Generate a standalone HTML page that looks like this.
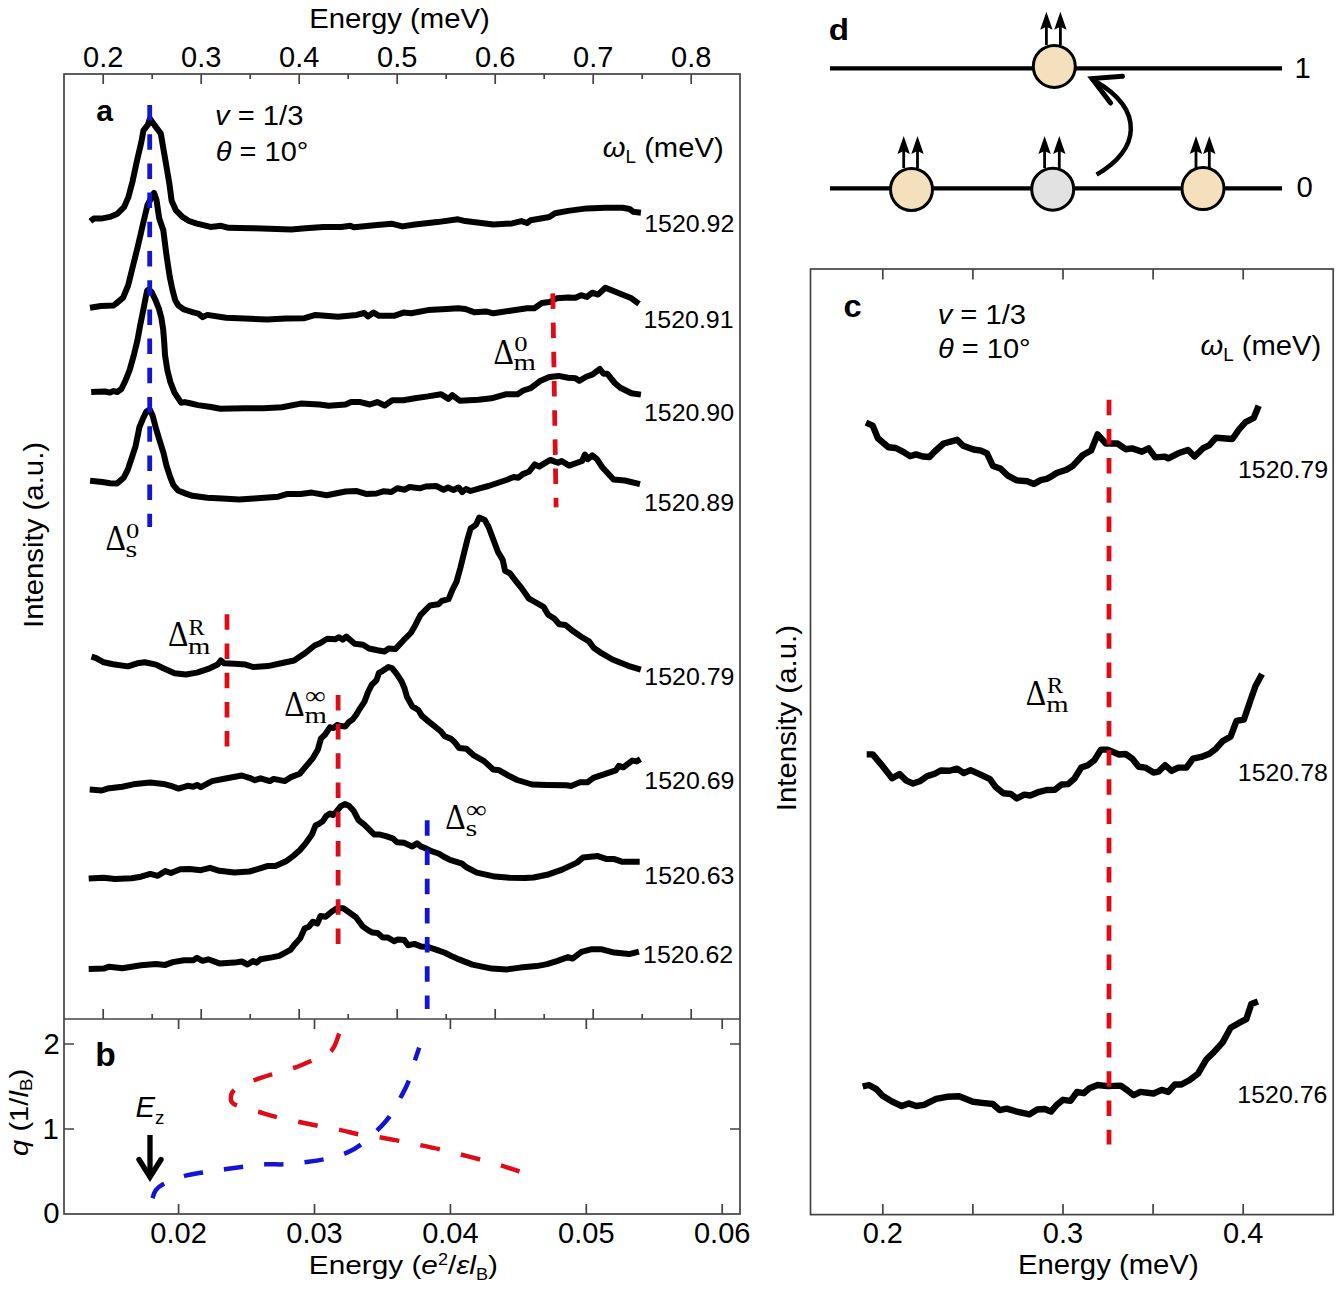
<!DOCTYPE html>
<html><head><meta charset="utf-8"><style>html,body{margin:0;padding:0;background:#fff;}svg{display:block;}</style></head>
<body><svg width="1339" height="1293" viewBox="0 0 1339 1293">
<rect x="0" y="0" width="1339" height="1293" fill="#fff"/>
<g fill="none" stroke="#444" stroke-width="1.7">
<rect x="64" y="74" width="676" height="1140"/>
<line x1="64" y1="1019" x2="740" y2="1019"/>
<rect x="810.5" y="269" width="522.7" height="945.6"/>
<path d="M103.2,74v10M103.2,1019v-10M152.2,74v5M152.2,1019v-5M201.2,74v10M201.2,1019v-10M250.2,74v5M250.2,1019v-5M299.2,74v10M299.2,1019v-10M348.2,74v5M348.2,1019v-5M397.2,74v10M397.2,1019v-10M446.2,74v5M446.2,1019v-5M495.2,74v10M495.2,1019v-10M544.2,74v5M544.2,1019v-5M593.2,74v10M593.2,1019v-10M642.2,74v5M642.2,1019v-5M691.2,74v10M691.2,1019v-10M178.6,1019v10M178.6,1214v-10M314.5,1019v10M314.5,1214v-10M450.4,1019v10M450.4,1214v-10M586.3,1019v10M586.3,1214v-10M722.2,1019v10M722.2,1214v-10M64,1129h10M740,1129h-10M64,1044h10M740,1044h-10M882.8,269v10.5M882.8,1214.6v-10.5M972.9,269v10.5M972.9,1214.6v-10.5M1063.0,269v10.5M1063.0,1214.6v-10.5M1153.1,269v10.5M1153.1,1214.6v-10.5M1243.2,269v10.5M1243.2,1214.6v-10.5"/>
</g>
<g fill="none" stroke="#000" stroke-width="6.0" stroke-linejoin="round" stroke-linecap="butt">
<polyline points="90.4,221.3 93.7,218.6 101.2,218.6 109.9,216.9 117.5,213.7 124.0,207.2 128.3,197.4 132.6,181.2 137.0,160.6 141.3,142.2 143.5,130.3 147.8,124.9 150.0,118.6 154.3,124.9 160.8,133.6 163.0,146.6 166.2,165.0 169.5,184.5 171.6,200.7 176.0,210.4 182.4,216.9 189.0,221.0 196.1,223.3 210.5,226.9 221.2,225.8 228.4,227.8 251.7,228.2 269.6,228.7 291.1,229.4 305.5,228.2 323.4,226.9 341.3,226.9 350.3,225.8 353.9,227.3 377.2,225.1 391.5,223.7 402.3,226.4 414.9,224.5 437.3,222.1 457.9,219.3 465.3,221.1 493.4,224.5 512.0,223.4 521.4,221.1 527.0,223.0 530.7,220.2 549.4,217.0 555.0,213.3 568.0,210.9 586.7,208.4 605.4,207.7 622.2,207.7 629.6,209.0 633.4,211.8 640.9,212.7"/>
<polyline points="90.0,307.7 101.0,306.0 113.6,305.5 116.0,303.6 123.1,297.6 128.1,285.5 133.1,265.4 138.1,245.3 143.2,223.2 147.5,205.0 154.0,192.8 156.5,200.0 159.2,218.2 163.3,230.2 166.1,252.4 167.9,264.8 169.8,277.1 172.5,290.0 175.3,300.5 178.5,305.6 184.0,309.5 193.3,312.4 198.3,313.6 202.7,317.1 207.3,314.9 226.0,317.7 244.7,318.6 267.1,319.5 285.8,318.6 304.4,318.2 315.6,314.9 338.0,316.7 356.7,314.9 364.2,313.0 367.9,316.4 373.5,312.6 379.1,315.8 394.0,315.8 403.4,312.6 411.2,313.3 428.0,310.1 446.7,309.0 457.9,308.2 465.3,309.0 474.7,312.3 485.9,311.4 493.4,313.3 512.0,310.5 527.0,308.2 534.4,308.2 541.9,303.0 549.4,302.1 556.8,298.3 568.0,297.4 575.5,297.8 581.1,295.2 586.7,297.0 592.3,292.7 597.9,294.6 605.4,287.7 620.3,293.7 631.5,298.3 639.0,303.9"/>
<polyline points="91.2,392.1 105.0,391.5 110.0,392.6 113.6,391.1 117.2,392.0 121.4,389.0 124.9,381.8 129.7,369.9 133.9,354.9 137.5,340.0 139.9,326.8 143.5,308.9 145.8,297.0 147.2,290.5 148.8,289.5 151.8,292.2 155.4,299.9 159.0,308.9 161.4,317.9 163.2,329.8 164.2,342.0 165.0,354.9 167.3,369.9 170.3,381.8 174.5,392.6 181.1,402.7 184.7,402.1 190.0,403.3 198.0,405.1 211.1,407.0 220.4,408.8 244.7,408.3 263.4,408.3 282.0,407.3 300.7,403.6 319.4,404.5 328.7,405.8 345.5,404.5 351.1,402.1 360.4,402.1 369.8,404.5 377.2,402.1 384.7,405.5 392.2,400.2 403.4,400.2 414.9,398.3 428.0,396.4 441.1,394.2 448.5,398.9 452.3,395.1 459.7,400.7 478.4,399.8 491.5,398.3 506.4,394.2 517.6,394.2 523.2,390.5 530.7,388.2 540.0,381.1 549.4,377.0 558.7,375.9 568.0,377.8 575.5,378.3 579.2,380.8 586.7,376.5 592.3,374.6 599.8,369.0 603.5,373.7 607.2,373.7 614.7,383.0 620.3,387.7 631.5,393.3 640.9,394.6"/>
<polyline points="90.1,480.8 102.4,482.0 110.0,483.2 117.0,483.6 123.9,477.4 127.8,469.6 131.7,458.0 135.5,446.4 137.9,434.8 139.4,427.1 143.3,417.8 146.4,411.6 149.8,409.5 152.6,415.5 155.6,427.1 159.5,440.2 163.4,452.6 166.5,465.8 170.3,477.4 173.4,485.1 178.1,490.5 185.8,493.6 192.4,495.8 207.3,497.7 222.3,498.6 239.1,499.5 254.0,498.6 278.3,496.7 287.6,493.9 300.7,493.9 311.9,492.6 326.8,495.2 345.5,491.5 356.7,491.1 366.0,493.9 376.4,493.5 383.9,491.2 391.4,492.0 397.3,488.3 404.8,489.7 409.3,487.1 419.7,488.3 425.7,486.5 436.2,486.0 443.6,489.7 448.1,487.5 453.4,490.0 458.6,487.5 462.3,492.0 466.0,489.0 470.5,491.0 479.5,488.3 488.5,486.0 497.4,483.0 506.4,480.0 513.8,477.0 518.3,477.8 522.8,474.1 528.8,471.8 534.8,464.4 539.2,466.6 545.2,462.9 550.4,459.9 554.2,461.4 558.0,462.8 561.7,461.0 569.1,465.6 582.1,461.0 584.9,454.5 587.7,459.1 592.3,455.4 596.9,459.1 602.5,467.5 613.6,479.5 624.8,480.5 640.0,484.2"/>
<polyline points="91.5,656.7 96.2,658.2 103.7,662.3 113.0,664.2 128.0,666.4 137.3,663.3 144.7,662.3 156.0,664.6 163.4,668.3 174.6,673.2 185.8,674.5 197.0,672.6 208.2,668.9 217.6,664.6 220.9,660.5 224.1,663.3 234.4,663.8 245.6,664.6 253.0,667.0 268.0,666.1 281.0,663.3 294.1,660.5 305.3,653.0 314.6,645.5 320.0,643.2 327.2,638.8 335.5,639.2 339.1,637.2 342.7,639.6 346.3,636.6 354.7,643.8 363.0,644.7 369.0,648.5 377.4,650.3 384.5,651.5 388.7,648.5 395.3,649.1 403.6,640.2 410.8,633.0 415.6,624.7 420.4,615.1 429.9,605.5 438.3,604.3 441.9,600.8 448.6,599.1 452.5,589.7 456.5,581.9 460.4,567.7 464.3,552.0 467.4,539.5 470.6,528.5 476.1,524.6 479.2,517.5 484.7,519.9 488.6,527.0 493.3,539.5 498.0,552.0 502.7,559.9 505.1,570.9 509.8,573.2 515.3,580.3 521.6,588.1 528.6,598.3 534.1,601.5 543.5,606.9 548.2,614.8 554.5,618.7 559.2,624.2 565.5,625.0 573.3,631.3 581.2,636.7 589.0,641.4 593.7,647.7 601.5,653.2 612.5,659.5 628.2,665.8 640.8,669.7"/>
<polyline points="89.7,789.5 101.8,790.5 107.4,788.6 122.3,786.7 135.4,783.9 150.3,782.6 163.4,783.9 170.9,785.8 178.4,788.6 187.7,785.8 193.3,786.7 197.0,784.9 200.8,787.1 212.0,781.1 226.9,778.3 241.8,775.5 249.3,777.8 254.9,780.2 260.5,778.3 269.8,781.1 273.6,778.9 284.8,781.1 290.4,777.4 299.7,773.7 307.2,764.9 313.1,757.8 317.9,749.4 320.9,738.6 325.1,734.5 329.9,727.3 333.5,728.1 337.0,724.9 340.6,726.1 345.4,726.5 349.0,721.9 352.6,719.5 356.2,714.7 359.7,708.8 364.5,701.6 368.1,692.0 371.7,684.9 376.5,680.1 378.9,672.9 382.4,671.1 388.4,667.0 392.0,668.1 396.8,674.1 401.6,681.3 404.6,688.5 406.9,696.8 412.3,706.4 418.3,710.0 421.9,715.9 429.0,721.9 435.0,726.7 441.0,731.5 444.6,736.3 450.6,738.6 454.5,742.0 459.0,747.9 466.4,748.7 473.9,755.4 484.4,761.4 493.3,769.6 499.3,770.3 509.7,776.3 517.2,780.0 532.1,784.5 547.1,785.0 566.5,785.3 571.0,786.0 580.0,782.3 587.4,782.3 593.4,777.8 606.8,773.3 615.8,770.3 618.8,765.8 623.3,767.3 632.2,760.6 636.7,761.4 640.4,759.1"/>
<polyline points="88.7,878.6 103.7,877.7 114.9,879.0 131.7,878.2 141.0,876.7 150.3,873.9 157.8,875.8 165.3,871.1 170.9,873.0 180.2,869.3 189.6,868.9 200.8,870.2 210.1,867.8 219.4,870.8 234.4,872.6 249.3,871.5 256.8,869.3 268.0,865.9 275.4,865.9 286.6,860.9 294.1,855.3 300.0,850.0 306.0,842.8 312.0,834.4 315.5,825.5 319.1,823.7 322.7,821.3 326.3,815.9 329.9,813.5 332.9,815.1 335.8,812.3 340.6,806.4 344.8,804.0 349.0,805.8 353.8,811.1 358.5,820.1 364.5,824.9 369.3,829.7 374.1,834.4 378.9,834.4 386.0,836.2 393.2,838.6 396.8,842.2 404.0,842.8 412.3,846.4 417.1,843.4 420.7,846.4 426.7,848.8 431.4,851.2 438.6,853.5 443.4,856.5 450.0,859.9 462.0,863.6 466.4,867.3 476.9,872.6 494.8,876.6 509.7,877.8 524.7,878.1 533.6,877.5 547.1,874.8 562.0,869.6 577.0,862.6 582.9,857.6 597.9,856.1 606.8,859.1 614.3,859.1 621.8,861.7 639.7,861.7"/>
<polyline points="88.7,969.0 103.7,968.6 109.3,966.7 122.3,968.2 141.0,965.2 155.9,963.9 165.3,964.9 172.8,962.1 184.0,960.2 193.3,960.2 197.0,957.8 202.6,960.8 208.2,959.3 219.4,963.4 234.4,962.6 241.8,961.5 247.4,964.5 253.0,961.1 256.8,962.6 260.5,959.3 271.7,957.4 279.2,955.9 290.4,949.9 295.1,943.9 300.2,938.2 304.6,928.6 309.0,926.7 312.9,921.7 317.3,923.6 320.5,916.0 325.6,916.8 331.9,911.5 337.0,908.3 343.3,908.3 349.7,912.8 356.0,917.2 362.4,926.1 368.7,930.6 372.5,932.5 377.6,933.1 382.7,937.5 387.8,937.5 394.1,941.3 397.9,939.4 404.3,940.1 408.1,945.2 414.4,943.9 420.8,946.4 428.4,947.1 436.0,949.6 444.9,952.8 452.5,956.6 459.0,959.4 472.4,964.6 491.8,968.6 506.8,969.5 520.2,967.6 536.6,966.1 547.1,964.1 557.5,960.8 568.0,957.1 572.5,958.6 581.4,951.9 591.9,949.2 600.9,949.2 614.3,952.6 629.2,954.1 638.9,951.6"/>
<polyline points="866.0,422.6 872.7,425.6 877.9,438.3 888.4,447.3 895.8,448.0 903.3,451.8 910.0,456.2 916.0,454.4 922.7,456.5 929.5,457.0 934.7,451.5 943.6,443.5 957.1,439.8 963.1,445.8 973.5,449.5 981.0,450.6 987.0,453.3 992.9,466.0 1000.4,468.5 1007.9,475.7 1016.8,480.4 1027.3,481.3 1034.0,483.9 1040.7,480.1 1046.7,478.9 1050.0,477.2 1056.6,473.0 1066.4,469.8 1073.0,465.7 1082.9,455.0 1091.1,450.5 1097.6,434.4 1105.9,443.5 1117.4,443.5 1125.6,449.2 1132.2,448.4 1142.0,451.7 1148.6,448.4 1155.2,457.4 1165.0,456.6 1168.3,458.3 1178.2,453.3 1188.0,450.0 1194.6,456.6 1202.8,448.4 1209.4,445.1 1216.0,437.7 1232.4,439.0 1239.0,429.5 1245.5,422.1 1253.7,418.0 1258.7,405.7" stroke-width="6.4"/>
<polyline points="866.7,754.4 872.7,754.4 880.9,764.1 892.1,778.3 899.6,774.1 906.3,780.6 913.0,783.5 919.7,781.3 927.2,776.1 934.7,773.8 940.7,770.5 949.6,770.8 957.1,768.6 963.8,773.1 970.5,770.1 979.5,774.1 990.0,779.1 995.9,787.3 1003.4,793.3 1010.9,794.0 1016.8,798.5 1024.3,794.7 1030.3,795.5 1039.2,791.8 1046.7,790.0 1054.9,789.8 1061.5,784.5 1068.1,784.1 1074.6,778.3 1081.2,767.6 1087.8,765.2 1094.4,760.2 1100.9,749.6 1107.5,749.6 1119.0,754.5 1125.6,754.0 1132.2,758.6 1138.7,766.8 1145.3,767.6 1153.5,772.6 1158.4,771.7 1165.0,765.2 1171.6,770.9 1178.2,767.6 1186.4,767.6 1193.0,758.6 1201.2,756.9 1209.4,753.7 1216.0,748.7 1222.5,741.3 1230.7,736.4 1236.5,720.8 1243.9,719.5 1250.5,700.3 1255.4,686.3 1262.0,674.0" stroke-width="6.4"/>
<polyline points="862.7,1086.5 868.8,1085.0 876.4,1089.1 882.6,1095.7 891.7,1101.4 901.7,1106.0 908.6,1103.4 916.2,1106.0 923.9,1104.9 936.1,1098.8 946.9,1096.8 959.1,1096.3 972.9,1101.8 982.1,1102.9 992.8,1104.0 999.7,1110.1 1006.6,1108.6 1015.7,1111.3 1029.5,1114.4 1037.2,1109.5 1044.8,1109.0 1051.0,1111.6 1056.6,1105.0 1063.1,1099.8 1070.5,1100.9 1077.1,1091.9 1083.7,1093.2 1089.4,1088.3 1097.6,1085.0 1107.5,1086.1 1120.7,1085.6 1127.2,1090.2 1133.8,1095.2 1140.4,1091.9 1153.5,1093.5 1161.7,1089.9 1168.3,1091.9 1174.9,1084.5 1181.4,1084.5 1189.7,1080.0 1197.9,1073.8 1206.1,1059.8 1212.7,1053.3 1222.5,1042.6 1230.7,1027.8 1239.0,1022.9 1246.3,1019.2 1251.3,1004.0 1257.9,1001.5" stroke-width="6.4"/>
</g>
<g fill="none" stroke-width="4.8" stroke-dasharray="15.5 13.7">
<line x1="149.7" y1="105" x2="149.7" y2="527" stroke="#1414d6"/>
<line x1="552.8" y1="293.4" x2="556.1" y2="507.4" stroke="#dc0c18"/>
<line x1="227" y1="614.3" x2="227" y2="748" stroke="#dc0c18"/>
<line x1="338.1" y1="694.9" x2="338.1" y2="944" stroke="#dc0c18"/>
<line x1="427.2" y1="820.3" x2="427.2" y2="1009" stroke="#1414d6"/>
<line x1="1109" y1="399.7" x2="1109" y2="1144.5" stroke="#dc0c18"/>
</g>
<g fill="none" stroke-width="4.5" stroke-dasharray="19.5 21">
<path d="M339.2,1033.5 C337.9,1036.4 335.8,1046.3 331.3,1050.8 C326.9,1055.2 318.8,1057.3 312.5,1060.2 C306.2,1063.1 300.5,1065.7 293.7,1068.0 C286.9,1070.3 278.0,1072.4 271.7,1074.3 C265.4,1076.2 261.1,1077.8 256.0,1079.6 C250.9,1081.4 244.7,1083.3 241.0,1085.0 C237.3,1086.7 235.8,1088.1 234.1,1090.0 C232.4,1091.9 231.0,1094.0 231.0,1096.3 C231.0,1098.6 229.4,1101.5 234.1,1104.1 C238.8,1106.7 252.4,1109.9 259.2,1112.0 C266.0,1114.1 268.6,1115.0 274.9,1116.6 C281.2,1118.2 289.5,1119.8 296.8,1121.4 C304.1,1123.0 311.5,1124.5 318.8,1126.0 C326.1,1127.5 334.0,1128.7 340.8,1130.1 C347.6,1131.5 353.3,1133.3 359.6,1134.5 C365.9,1135.7 371.6,1135.9 378.4,1137.0 C385.2,1138.1 393.6,1139.8 400.4,1141.1 C407.2,1142.4 412.4,1143.5 419.2,1144.9 C426.0,1146.3 434.3,1148.0 441.1,1149.6 C447.9,1151.2 453.2,1152.6 460.0,1154.3 C466.8,1156.0 475.1,1158.2 481.9,1160.0 C488.7,1161.8 494.4,1163.4 500.7,1165.3 C507.0,1167.2 516.4,1170.5 519.5,1171.5" stroke="#dc0c18" stroke-dasharray="19.8 21.7"/>
<path d="M152.5,1198.2 C153.0,1196.9 153.9,1192.8 155.7,1190.4 C157.5,1188.1 158.8,1186.5 163.5,1184.1 C168.2,1181.7 177.4,1178.1 183.9,1176.2 C190.4,1174.3 195.9,1173.7 202.7,1172.5 C209.5,1171.3 217.9,1170.2 224.7,1169.3 C231.5,1168.3 236.7,1167.6 243.5,1166.8 C250.3,1166.0 258.7,1164.7 265.5,1164.3 C272.3,1163.9 277.5,1164.7 284.3,1164.3 C291.1,1163.9 299.4,1163.0 306.2,1162.1 C313.0,1161.2 318.3,1160.6 325.1,1159.0 C331.9,1157.4 340.7,1155.3 347.0,1152.7 C353.3,1150.1 357.5,1147.2 362.7,1143.3 C367.9,1139.4 373.9,1133.7 378.4,1129.2 C382.8,1124.8 385.7,1121.8 389.4,1116.6 C393.1,1111.4 397.3,1103.5 400.4,1097.8 C403.5,1092.0 405.8,1088.1 408.2,1082.1 C410.6,1076.1 412.7,1067.5 414.5,1061.8 C416.3,1056.0 418.4,1050.0 419.2,1047.6" stroke="#1414d6"/>
</g>
<g fill="#000">
<text transform="matrix(1.0467,0,0,0.9673,309.16,28.12)" font-size="28" font-family='"Liberation Sans", sans-serif' >Energy (meV)</text>
<text transform="matrix(1.0062,0,0,1.0125,96.19,121.4)" font-size="30" font-family='"Liberation Sans", sans-serif' font-weight="bold">a</text>
<text transform="matrix(1.0421,0,0,0.99,215.04,125.25)" font-size="28" font-family='"Liberation Sans", sans-serif' ><tspan font-style="italic">v</tspan> = 1/3</text>
<text transform="matrix(1.0356,0,0,0.965,215.81,160.5)" font-size="28" font-family='"Liberation Sans", sans-serif' ><tspan font-style="italic">θ</tspan> = 10°</text>
<text transform="matrix(1.0429,0,0,0.9923,602.83,156.6)" font-size="28" font-family='"Liberation Sans", sans-serif' ><tspan font-style="italic">ω</tspan><tspan font-size="18" dy="6">L</tspan><tspan dy="-6"> (meV)</tspan></text>
<text transform="matrix(1.0381,0,0,1.0118,644.27,232.45)" font-size="24" font-family='"Liberation Sans", sans-serif' >1520.92</text>
<text transform="matrix(1.0381,0,0,1.0118,643.47,327.55)" font-size="24" font-family='"Liberation Sans", sans-serif' >1520.91</text>
<text transform="matrix(1.0381,0,0,1.0118,643.97,420.9)" font-size="24" font-family='"Liberation Sans", sans-serif' >1520.90</text>
<text transform="matrix(1.0381,0,0,1.0118,643.97,510.95)" font-size="24" font-family='"Liberation Sans", sans-serif' >1520.89</text>
<text transform="matrix(1.0381,0,0,1.0118,644.32,685.05)" font-size="24" font-family='"Liberation Sans", sans-serif' >1520.79</text>
<text transform="matrix(1.0381,0,0,1.0118,644.32,789.15)" font-size="24" font-family='"Liberation Sans", sans-serif' >1520.69</text>
<text transform="matrix(1.0381,0,0,1.0118,644.32,884.2)" font-size="24" font-family='"Liberation Sans", sans-serif' >1520.63</text>
<text transform="matrix(1.0381,0,0,1.0118,643.07,963.4)" font-size="24" font-family='"Liberation Sans", sans-serif' >1520.62</text>
<text transform="matrix(1.0559,0,0,1.1921,493.62,363.82)" font-size="30" font-family='"Liberation Serif", serif' >Δ</text>
<text transform="matrix(1.3313,0,0,1.0786,514.34,350.6)" font-size="20" font-family='"Liberation Serif", serif' >0</text>
<text transform="matrix(1.4393,0,0,1.205,513.59,369.88)" font-size="20" font-family='"Liberation Serif", serif' >m</text>
<text transform="matrix(1.0559,0,0,1.1921,105.62,549.98)" font-size="30" font-family='"Liberation Serif", serif' >Δ</text>
<text transform="matrix(1.3313,0,0,1.0786,125.99,537.9)" font-size="20" font-family='"Liberation Serif", serif' >0</text>
<text transform="matrix(1.5167,0,0,1.17,125.48,557.1)" font-size="20" font-family='"Liberation Serif", serif' >s</text>
<text transform="matrix(1.0559,0,0,1.1921,167.97,646.38)" font-size="30" font-family='"Liberation Serif", serif' >Δ</text>
<text transform="matrix(1.2125,0,0,1.1679,188.61,634.67)" font-size="20" font-family='"Liberation Serif", serif' >R</text>
<text transform="matrix(1.4393,0,0,1.205,187.99,653.57)" font-size="20" font-family='"Liberation Serif", serif' >m</text>
<text transform="matrix(1.0559,0,0,1.1921,284.32,715.53)" font-size="30" font-family='"Liberation Serif", serif' >Δ</text>
<text transform="matrix(1.4538,0,0,1.2625,304.95,704.42)" font-size="20" font-family='"Liberation Serif", serif' >∞</text>
<text transform="matrix(1.4393,0,0,1.205,304.54,722.78)" font-size="20" font-family='"Liberation Serif", serif' >m</text>
<text transform="matrix(1.0559,0,0,1.1921,445.17,829.12)" font-size="30" font-family='"Liberation Serif", serif' >Δ</text>
<text transform="matrix(1.4538,0,0,1.2625,466.05,818.12)" font-size="20" font-family='"Liberation Serif", serif' >∞</text>
<text transform="matrix(1.5167,0,0,1.17,465.38,836.3)" font-size="20" font-family='"Liberation Serif", serif' >s</text>
<text transform="matrix(1.0559,0,0,1.1921,1025.82,705.38)" font-size="30" font-family='"Liberation Serif", serif' >Δ</text>
<text transform="matrix(1.2125,0,0,1.1679,1046.96,692.72)" font-size="20" font-family='"Liberation Serif", serif' >R</text>
<text transform="matrix(1.4393,0,0,1.205,1046.19,712.02)" font-size="20" font-family='"Liberation Serif", serif' >m</text>
<text transform="matrix(1.12,0,0,1.0909,95.16,1066.3)" font-size="30" font-family='"Liberation Sans", sans-serif' font-weight="bold">b</text>
<text transform="matrix(1.0474,0,0,1.0474,43.54,1053.8)" font-size="28" font-family='"Liberation Sans", sans-serif' >2</text>
<text transform="matrix(1.0474,0,0,1.0474,42.52,1138.95)" font-size="28" font-family='"Liberation Sans", sans-serif' >1</text>
<text transform="matrix(1.0474,0,0,1.0474,43.22,1222.55)" font-size="28" font-family='"Liberation Sans", sans-serif' >0</text>
<text transform="matrix(1.0462,0,0,1.068,135.55,1117.39)" font-size="28" font-family='"Liberation Sans", sans-serif' ><tspan font-style="italic">E</tspan><tspan font-size="18" dy="6">z</tspan></text>
<text transform="matrix(1.0632,0,0,0.9536,308.87,1274.38)" font-size="28" font-family='"Liberation Sans", sans-serif' >Energy (<tspan font-style="italic">e</tspan><tspan font-size="17" dy="-10">2</tspan><tspan dy="10">/</tspan><tspan font-style="italic">εl</tspan><tspan font-size="17" dy="6">B</tspan><tspan dy="-6">)</tspan></text>
<text transform="matrix(1.0867,0,0,1.0187,843.51,316.9)" font-size="30" font-family='"Liberation Sans", sans-serif' font-weight="bold">c</text>
<text transform="matrix(1.0421,0,0,0.99,937.69,323.65)" font-size="28" font-family='"Liberation Sans", sans-serif' ><tspan font-style="italic">v</tspan> = 1/3</text>
<text transform="matrix(1.0356,0,0,0.965,938.01,357.5)" font-size="28" font-family='"Liberation Sans", sans-serif' ><tspan font-style="italic">θ</tspan> = 10°</text>
<text transform="matrix(1.0429,0,0,0.9923,1200.48,355.3)" font-size="28" font-family='"Liberation Sans", sans-serif' ><tspan font-style="italic">ω</tspan><tspan font-size="18" dy="6">L</tspan><tspan dy="-6"> (meV)</tspan></text>
<text transform="matrix(1.0381,0,0,1.0118,1237.97,478.0)" font-size="24" font-family='"Liberation Sans", sans-serif' >1520.79</text>
<text transform="matrix(1.0381,0,0,1.0118,1237.87,780.95)" font-size="24" font-family='"Liberation Sans", sans-serif' >1520.78</text>
<text transform="matrix(1.0381,0,0,1.0118,1237.32,1103.2)" font-size="24" font-family='"Liberation Sans", sans-serif' >1520.76</text>
<text transform="matrix(1.0467,0,0,0.9673,1017.96,1273.57)" font-size="28" font-family='"Liberation Sans", sans-serif' >Energy (meV)</text>
<text transform="matrix(1.1063,0,0,0.9864,828.69,39.5)" font-size="30" font-family='"Liberation Sans", sans-serif' font-weight="bold">d</text>
<text transform="matrix(1.0474,0,0,1.0474,1294.52,78.1)" font-size="28" font-family='"Liberation Sans", sans-serif' >1</text>
<text transform="matrix(1.0474,0,0,1.0474,1296.52,197.25)" font-size="28" font-family='"Liberation Sans", sans-serif' >0</text>
<text x="103.2" y="66.6" font-size="29" text-anchor="middle" font-family='"Liberation Sans", sans-serif' >0.2</text>
<text x="201.2" y="66.6" font-size="29" text-anchor="middle" font-family='"Liberation Sans", sans-serif' >0.3</text>
<text x="299.2" y="66.6" font-size="29" text-anchor="middle" font-family='"Liberation Sans", sans-serif' >0.4</text>
<text x="397.2" y="66.6" font-size="29" text-anchor="middle" font-family='"Liberation Sans", sans-serif' >0.5</text>
<text x="495.2" y="66.6" font-size="29" text-anchor="middle" font-family='"Liberation Sans", sans-serif' >0.6</text>
<text x="593.2" y="66.6" font-size="29" text-anchor="middle" font-family='"Liberation Sans", sans-serif' >0.7</text>
<text x="691.2" y="66.6" font-size="29" text-anchor="middle" font-family='"Liberation Sans", sans-serif' >0.8</text>
<text x="178.6" y="1243.4" font-size="29" text-anchor="middle" font-family='"Liberation Sans", sans-serif' >0.02</text>
<text x="314.5" y="1243.4" font-size="29" text-anchor="middle" font-family='"Liberation Sans", sans-serif' >0.03</text>
<text x="450.4" y="1243.4" font-size="29" text-anchor="middle" font-family='"Liberation Sans", sans-serif' >0.04</text>
<text x="586.3000000000001" y="1243.4" font-size="29" text-anchor="middle" font-family='"Liberation Sans", sans-serif' >0.05</text>
<text x="722.2" y="1243.4" font-size="29" text-anchor="middle" font-family='"Liberation Sans", sans-serif' >0.06</text>
<text x="882.8" y="1242.6" font-size="29" text-anchor="middle" font-family='"Liberation Sans", sans-serif' >0.2</text>
<text x="1063.0" y="1242.6" font-size="29" text-anchor="middle" font-family='"Liberation Sans", sans-serif' >0.3</text>
<text x="1243.1999999999998" y="1242.6" font-size="29" text-anchor="middle" font-family='"Liberation Sans", sans-serif' >0.4</text>
<text transform="translate(43.4,628) rotate(-90) scale(1.05,1)" font-size="28" font-family='"Liberation Sans", sans-serif'>Intensity (a.u.)</text>
<text transform="translate(796,811.2) rotate(-90) scale(1.05,1)" font-size="28" font-family='"Liberation Sans", sans-serif'>Intensity (a.u.)</text>
<text transform="translate(28,1156) rotate(-90) scale(1.17,1)" font-size="25" font-family='"Liberation Sans", sans-serif'><tspan font-style="italic">q</tspan> (1/<tspan font-style="italic">l</tspan><tspan font-size="16" dy="4">B</tspan><tspan dy="-4">)</tspan></text>
</g>
<g fill="none" stroke="#000"><line x1="150" y1="1135" x2="150" y2="1176" stroke-width="5.3"/><path d="M139,1159.5 L150,1177 L161,1159.5" stroke-width="5.4" stroke-linecap="round" stroke-linejoin="miter" stroke-miterlimit="6"/></g>
<g>
<g stroke="#000" stroke-width="4.4"><line x1="830" y1="68.4" x2="1282" y2="68.4"/><line x1="830" y1="188.4" x2="1282" y2="188.4"/></g>
<circle cx="1054.3" cy="66.4" r="21" fill="#f5e0bd" stroke="#000" stroke-width="3"/>
<circle cx="911.5" cy="189.5" r="21" fill="#f5e0bd" stroke="#000" stroke-width="3"/>
<circle cx="1052.7" cy="189.2" r="21" fill="#e2e2e2" stroke="#000" stroke-width="3"/>
<circle cx="1203" cy="188.6" r="21" fill="#f5e0bd" stroke="#000" stroke-width="3"/>
<line x1="1046.4" y1="45" x2="1046.4" y2="23.8" stroke="#000" stroke-width="2.8"/><path d="M1046.4,11.8 L1052.6000000000001,29.8 L1046.4,26.8 L1040.2,29.8 Z" fill="#000"/>
<line x1="1060.4" y1="45" x2="1060.4" y2="23.8" stroke="#000" stroke-width="2.8"/><path d="M1060.4,11.8 L1066.6000000000001,29.8 L1060.4,26.8 L1054.2,29.8 Z" fill="#000"/>
<line x1="903.7" y1="168" x2="903.7" y2="147.9" stroke="#000" stroke-width="2.8"/><path d="M903.7,135.9 L909.9000000000001,153.9 L903.7,150.9 L897.5,153.9 Z" fill="#000"/>
<line x1="917.5" y1="168" x2="917.5" y2="147.9" stroke="#000" stroke-width="2.8"/><path d="M917.5,135.9 L923.7,153.9 L917.5,150.9 L911.3,153.9 Z" fill="#000"/>
<line x1="1044.6" y1="168" x2="1044.6" y2="147.9" stroke="#000" stroke-width="2.8"/><path d="M1044.6,135.9 L1050.8,153.9 L1044.6,150.9 L1038.3999999999999,153.9 Z" fill="#000"/>
<line x1="1059.3" y1="168" x2="1059.3" y2="147.9" stroke="#000" stroke-width="2.8"/><path d="M1059.3,135.9 L1065.5,153.9 L1059.3,150.9 L1053.1,153.9 Z" fill="#000"/>
<line x1="1196" y1="168" x2="1196" y2="147.9" stroke="#000" stroke-width="2.8"/><path d="M1196,135.9 L1202.2,153.9 L1196,150.9 L1189.8,153.9 Z" fill="#000"/>
<line x1="1209.3" y1="168" x2="1209.3" y2="147.9" stroke="#000" stroke-width="2.8"/><path d="M1209.3,135.9 L1215.5,153.9 L1209.3,150.9 L1203.1,153.9 Z" fill="#000"/>
<path d="M1096.6,174.6 C1140,150 1145,110 1095,81" fill="none" stroke="#000" stroke-width="4.5"/>
<path d="M1122.5,76.2 L1092,78.6 L1110.6,103" fill="none" stroke="#000" stroke-width="5" stroke-linejoin="miter" stroke-linecap="round" stroke-miterlimit="8"/>
</g>
</svg></body></html>
